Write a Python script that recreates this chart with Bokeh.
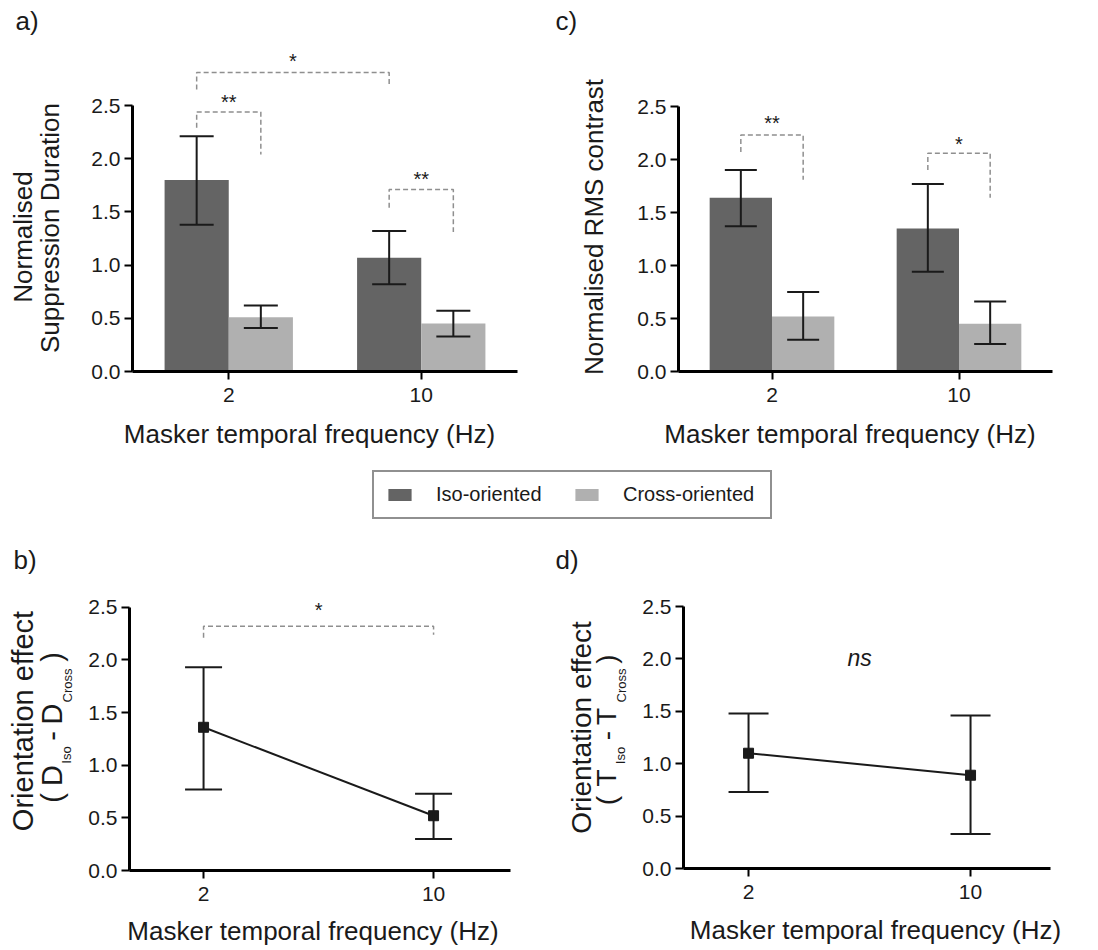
from math import pi
from bokeh.plotting import figure
from bokeh.models import (ColumnDataSource, FactorRange, Range1d, FixedTicker, Whisker,
                          TeeHead, Label, Legend, LegendItem, PrintfTickFormatter)
from bokeh.layouts import column, row
from bokeh.embed import file_html
from bokeh.resources import INLINE
from bokeh.core.properties import value

FONT = "Liberation Sans"
INK = "#1a1a1a"
ISO_COLOR = "#646464"
CROSS_COLOR = "#b0b0b0"
DASH_COLOR = "#8f8f8f"
K = 0.37  # measured offset (in em) between the requested and the drawn baseline

# ---------------- data ----------------
freqs = ["2", "10"]
series = ["Iso-oriented", "Cross-oriented"]
y_ticks = [0.0, 0.5, 1.0, 1.5, 2.0, 2.5]

# panel a: normalised suppression duration
a_iso = [1.80, 1.07]
a_iso_lo = [1.38, 0.82]
a_iso_hi = [2.21, 1.32]
a_cross = [0.51, 0.45]
a_cross_lo = [0.41, 0.33]
a_cross_hi = [0.62, 0.57]
# significance brackets (from, to, top, left leg end, right leg end, label)
a_br_from = [("2", "Iso"), ("2", "Iso"), ("10", "Iso")]
a_br_to = [("2", "Cross"), ("10", "Iso"), ("10", "Cross")]
a_br_top = [2.44, 2.81, 1.71]
a_br_left = [2.29, 2.65, 1.54]
a_br_right = [2.04, 2.70, 1.31]
a_sig = ["**", "*", "**"]
a_sig_y = [2.46, 2.85, 1.74]

# panel c: normalised RMS contrast
c_iso = [1.64, 1.35]
c_iso_lo = [1.37, 0.94]
c_iso_hi = [1.90, 1.77]
c_cross = [0.52, 0.45]
c_cross_lo = [0.30, 0.26]
c_cross_hi = [0.75, 0.66]
c_br_from = [("2", "Iso"), ("10", "Iso")]
c_br_to = [("2", "Cross"), ("10", "Cross")]
c_br_top = [2.23, 2.06]
c_br_left = [2.07, 1.90]
c_br_right = [1.81, 1.64]
c_sig = ["**", "*"]
c_sig_y = [2.27, 2.08]

# panel b: orientation effect (duration)
b_mean = [1.36, 0.52]
b_lo = [0.77, 0.30]
b_hi = [1.93, 0.73]
b_br_top = [2.32]
b_br_left = [2.21]
b_br_right = [2.24]
b_sig = ["*"]
b_sig_y = [2.40]

# panel d: orientation effect (contrast)
d_mean = [1.10, 0.89]
d_lo = [0.73, 0.33]
d_hi = [1.48, 1.46]
d_sig = ["ns"]
d_sig_y = [1.93]


# ---------------- helpers ----------------
def style(p, label_standoff_x=8):
    for ax in (p.xaxis[0], p.yaxis[0]):
        ax.axis_line_width = 3
        ax.axis_line_color = "black"
        ax.major_tick_line_width = 2
        ax.major_tick_line_color = "black"
        ax.major_tick_out = 8
        ax.major_tick_in = 0
        ax.minor_tick_line_color = None
        ax.major_label_text_font = FONT
        ax.major_label_text_font_size = "21px"
        ax.major_label_text_color = INK
    p.yaxis.ticker = FixedTicker(ticks=y_ticks)
    p.yaxis.formatter = PrintfTickFormatter(format="%.1f")
    p.yaxis.bounds = (0, 2.5)
    p.yaxis.major_label_standoff = 4
    p.xaxis.major_label_standoff = label_standoff_x
    p.xgrid.visible = False
    p.ygrid.visible = False
    p.outline_line_color = None
    p.background_fill_color = "white"
    p.border_fill_color = "white"


def text_strip(width, height):
    """A figure without axes whose frame is the whole canvas; it only holds texts."""
    s = figure(width=width, height=height, toolbar_location=None, output_backend="svg",
               min_border=0, min_border_left=0, min_border_right=0, min_border_top=0,
               min_border_bottom=0, x_axis_location=None, y_axis_location=None,
               x_range=Range1d(0, 1), y_range=Range1d(0, 1))
    s.xgrid.visible = False
    s.ygrid.visible = False
    s.outline_line_color = None
    return s


def add_label(s, left, bottom, X, Y, text, size, align="left", angle=0.0, style_="normal"):
    # X, Y: page pixel position of the text baseline anchor; left/bottom: page position of strip
    if angle:
        X = X - K * size
    else:
        Y = Y - K * size
    s.add_layout(Label(x=X - left, y=bottom - Y, x_units="screen", y_units="screen",
                       text=text, text_font=FONT, text_font_size=f"{size}px",
                       text_align=align, text_baseline="alphabetic", angle=angle,
                       text_color=INK, text_font_style=style_))


def bar_x(cat, ser):
    return freqs.index(cat) + 0.5 + (-1 / 6 if ser == "Iso" else 1 / 6)


def sig_text(p, x, y, txt, font_px, italic=False):
    p.text(x=x, y=y, text=txt, text_align="center", text_baseline="alphabetic",
           y_offset=-K * font_px, text_font=value(FONT), text_font_size=f"{font_px}px",
           text_color=INK, text_font_style="italic" if italic else "normal")


def brackets(p, xs0, xs1, top, left, right, sig, sig_y, font_px=20):
    xs = [[a, a, b, b] for a, b in zip(xs0, xs1)]
    ys = [[l, t, t, r] for l, t, r in zip(left, top, right)]
    p.multi_line(xs=xs, ys=ys, line_color=DASH_COLOR, line_width=1.5, line_dash="5 3")
    cx = [(a + b) / 2 for a, b in zip(xs0, xs1)]
    sig_text(p, cx, sig_y, sig, font_px)


def whisker(src, cap):
    return Whisker(source=src, base="x", lower="lo", upper="hi", line_color=INK, line_width=2,
                   level="overlay",
                   upper_head=TeeHead(size=cap, line_color=INK, line_width=2),
                   lower_head=TeeHead(size=cap, line_color=INK, line_width=2))


def bar_panel(width, height, mb_left, mb_right, mb_top, mb_bottom, ytop, iso, iso_lo, iso_hi,
              cross, cross_lo, cross_hi, cap):
    p = figure(width=width, height=height, x_range=FactorRange(*freqs), y_range=Range1d(0, ytop),
               toolbar_location=None, output_backend="svg", min_border_left=mb_left,
               min_border_right=mb_right, min_border_top=mb_top, min_border_bottom=mb_bottom)
    style(p)
    srcs = []
    for ser, vals, lo, hi, col in (("Iso", iso, iso_lo, iso_hi, ISO_COLOR),
                                   ("Cross", cross, cross_lo, cross_hi, CROSS_COLOR)):
        src = ColumnDataSource(dict(x=[bar_x(c, ser) for c in freqs], top=vals, lo=lo, hi=hi))
        p.vbar(x="x", top="top", bottom=0, width=1 / 3, source=src, fill_color=col, line_color=None)
        p.add_layout(whisker(src, cap))
        srcs.append(src)
    return p, srcs


def line_panel(width, height, mb_left, mb_right, mb_top, mb_bottom, ytop, xr, mean, lo, hi, cap):
    p = figure(width=width, height=height, x_range=Range1d(*xr), y_range=Range1d(0, ytop),
               toolbar_location=None, output_backend="svg", min_border_left=mb_left,
               min_border_right=mb_right, min_border_top=mb_top, min_border_bottom=mb_bottom)
    style(p)
    idx = list(range(len(freqs)))
    p.xaxis.ticker = FixedTicker(ticks=idx)
    p.xaxis.major_label_overrides = {i: f for i, f in zip(idx, freqs)}
    src = ColumnDataSource(dict(x=idx, y=mean, lo=lo, hi=hi))
    p.line(x="x", y="y", source=src, line_color=INK, line_width=2)
    p.add_layout(whisker(src, cap))
    p.scatter(x="x", y="y", source=src, marker="square", size=10, fill_color=INK, line_color=INK)
    return p


XT = "Masker temporal frequency (Hz)"
TOP_H = 418      # height of the top panels (page y 0..418)
XT_H = 38        # x-title strip under them (418..456)

# ---------------- panel a  (page x 0..540) ----------------
pa, (src_a_iso, src_a_cross) = bar_panel(464, TOP_H, 56, 23, 40, TOP_H - 371, 331 / 106.4,
                                         a_iso, a_iso_lo, a_iso_hi,
                                         a_cross, a_cross_lo, a_cross_hi, 34)
brackets(pa, [bar_x(*f) for f in a_br_from], [bar_x(*t) for t in a_br_to],
         a_br_top, a_br_left, a_br_right, a_sig, a_sig_y)
ya = text_strip(76, TOP_H)
add_label(ya, 0, TOP_H, 15, 30, "a)", 26)
add_label(ya, 0, TOP_H, 32, 236.5, "Normalised", 26, "center", pi / 2)
add_label(ya, 0, TOP_H, 59, 227.5, "Suppression Duration", 26, "center", pi / 2)
xa = text_strip(540, XT_H)
add_label(xa, 0, TOP_H + XT_H, 309, 443, XT, 26, "center")

# ---------------- panel c  (page x 540..1090) ----------------
pc, _ = bar_panel(470, TOP_H, 58, 38, 40, TOP_H - 371, 331 / 106.0, c_iso, c_iso_lo, c_iso_hi,
                  c_cross, c_cross_lo, c_cross_hi, 32)
brackets(pc, [bar_x(*f) for f in c_br_from], [bar_x(*t) for t in c_br_to],
         c_br_top, c_br_left, c_br_right, c_sig, c_sig_y)
yc = text_strip(80, TOP_H)
add_label(yc, 540, TOP_H, 555, 30, "c)", 26)
add_label(yc, 540, TOP_H, 603, 226.5, "Normalised RMS contrast", 26, "center", pi / 2)
xc = text_strip(550, XT_H)
add_label(xc, 540, TOP_H + XT_H, 849.5, 443, XT, 26, "center")

# ---------------- legend strip (page y 456..540) ----------------
pl = figure(width=1090, height=84, toolbar_location=None, output_backend="svg",
            min_border=0, min_border_left=0, min_border_right=0, min_border_top=0,
            min_border_bottom=0, x_axis_location=None, y_axis_location=None,
            x_range=Range1d(50, 51), y_range=Range1d(50, 51))
pl.xgrid.visible = False
pl.ygrid.visible = False
pl.outline_line_color = None
# legend keys reuse the panel-a bar data; those bars lie far outside this strip's visible range
r_iso = pl.vbar(x="x", top="top", bottom=0, width=1 / 3, source=src_a_iso,
                fill_color=ISO_COLOR, line_color=None)
r_cross = pl.vbar(x="x", top="top", bottom=0, width=1 / 3, source=src_a_cross,
                  fill_color=CROSS_COLOR, line_color=None)
legend = Legend(items=[LegendItem(label=series[0], renderers=[r_iso]),
                       LegendItem(label=series[1], renderers=[r_cross])],
                location=(372, 21), orientation="horizontal",
                border_line_color="#222222", border_line_width=2,
                background_fill_color="white", background_fill_alpha=1.0,
                label_text_font=FONT, label_text_font_size="20px", label_text_color=INK,
                glyph_width=29, glyph_height=15, label_standoff=22, spacing=0,
                label_width=136, padding=11, margin=0)
pl.add_layout(legend)

# ---------------- panel b  (page x 0..540, y 540..912 + title strip to 948) ----------------
pb = line_panel(460, 372, 49, 30, 40, 42, 290 / 105.3, (-0.322, -0.322 + 381 / 230),
                b_mean, b_lo, b_hi, 37)
brackets(pb, [0], [1], b_br_top, b_br_left, b_br_right, b_sig, b_sig_y)
yb = text_strip(80, 372)
add_label(yb, 0, 912, 13, 569, "b)", 26)
add_label(yb, 0, 912, 33, 720.5, "Orientation effect", 29, "center", pi / 2)
for txt, yy, xb, sz in (("(", 797.5, 62, 29), ("D", 775, 62, 29), ("Iso", 754.5, 71, 13),
                        ("-", 735.5, 62, 29), ("D", 713.5, 62, 29), ("Cross", 685, 72, 13),
                        (")", 656.5, 62, 29)):
    add_label(yb, 0, 912, xb, yy, txt, sz, "center", pi / 2)
xb_ = text_strip(540, 36)
add_label(xb_, 0, 948, 312.5, 940, XT, 26, "center")

# ---------------- panel d  (page x 540..1090) ----------------
pd_ = line_panel(458, 372, 51, 40, 40, 44, 288 / 104.8, (-0.293, -0.293 + 367 / 222),
                 d_mean, d_lo, d_hi, 40)
sig_text(pd_, [0.5], d_sig_y, d_sig, 23, italic=True)
yd = text_strip(92, 372)
add_label(yd, 540, 912, 555, 569, "d)", 26)
add_label(yd, 540, 912, 591, 727, "Orientation effect", 28, "center", pi / 2)
for txt, yy, xb, sz in (("(", 800, 616, 28), ("T", 777.5, 616, 28), ("Iso", 755, 625, 13),
                        ("-", 735, 616, 28), ("T", 716, 616, 28), ("Cross", 685, 626, 13),
                        (")", 658.5, 616, 28)):
    add_label(yd, 540, 912, xb, yy, txt, sz, "center", pi / 2)
xd = text_strip(550, 36)
add_label(xd, 540, 948, 875, 939, XT, 26, "center")

layout = column(
    row(ya, column(pa), yc, column(pc)),
    row(xa, xc),
    pl,
    row(yb, column(pb), yd, column(pd_)),
    row(xb_, xd),
)
open("out.html", "w").write(file_html(layout, INLINE))
